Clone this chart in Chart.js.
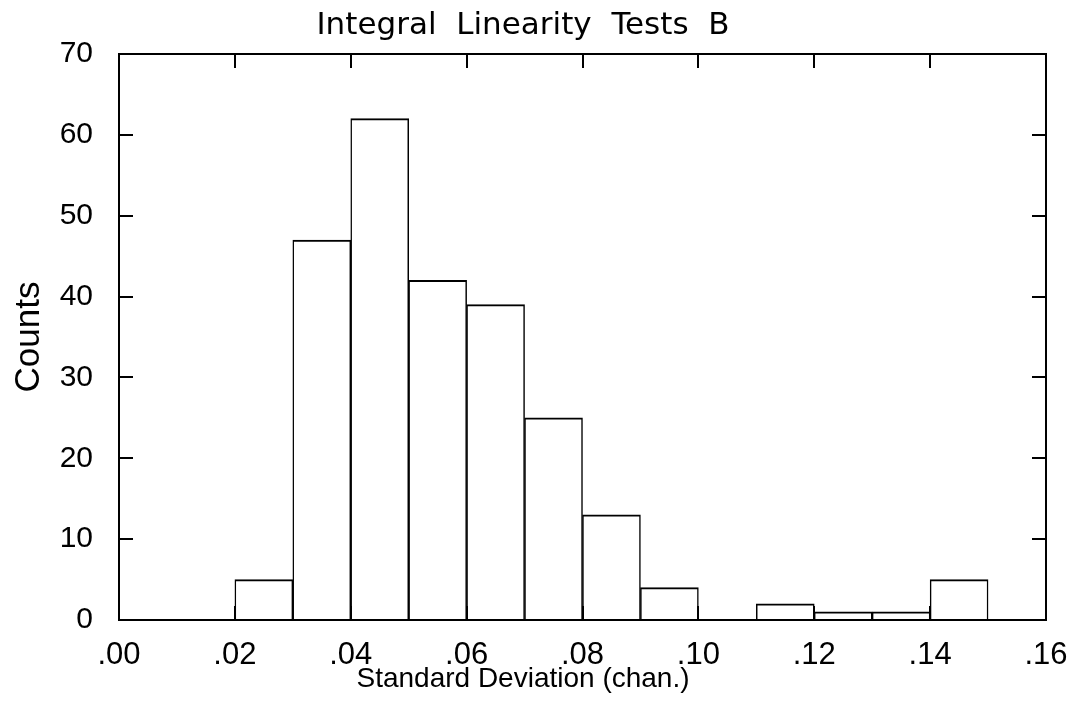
<!DOCTYPE html>
<html>
<head>
<meta charset="utf-8">
<script src="https://cdn.jsdelivr.net/npm/chart.js@4"></script>
<style>
  html, body { margin: 0; padding: 0; background: #fff; }
  #wrap { width: 1071px; height: 709px; }
</style>
</head>
<body>
<div id="wrap"><canvas id="hist" width="1071" height="709"></canvas></div>
<script>
// ====== Data ======
const BIN_STARTS = [0.00, 0.01, 0.02, 0.03, 0.04, 0.05, 0.06, 0.07, 0.08, 0.09, 0.10, 0.11, 0.12, 0.13, 0.14, 0.15];
const COUNTS     = [0, 0, 5, 47, 62, 42, 39, 25, 13, 4, 0, 2, 1, 1, 5, 0];
const BIN_WIDTH  = 0.01;
const X_TICKS    = [0.00, 0.02, 0.04, 0.06, 0.08, 0.10, 0.12, 0.14, 0.16];
const Y_TICKS    = [0, 10, 20, 30, 40, 50, 60, 70];
// =======================================

const FONT = "'Liberation Sans', Arial, sans-serif";

// ".04" style labels
function fmtX(v) {
  return Number(v).toFixed(2).replace(/^0/, "");
}

// frame + inward ticks on all four sides
const frameTicks = {
  id: "frameTicks",
  afterDatasetsDraw(chart) {
    const { ctx, chartArea: a, scales } = chart;
    const len = 14;
    ctx.save();
    ctx.strokeStyle = "#000";
    ctx.lineWidth = 2;
    ctx.strokeRect(a.left, a.top, a.right - a.left, a.bottom - a.top);
    ctx.beginPath();
    X_TICKS.forEach(v => {
      const px = Math.round(scales.x.getPixelForValue(v));
      ctx.moveTo(px, a.bottom); ctx.lineTo(px, a.bottom - len);
      ctx.moveTo(px, a.top);    ctx.lineTo(px, a.top + len);
    });
    Y_TICKS.forEach(v => {
      const py = Math.round(scales.y.getPixelForValue(v));
      ctx.moveTo(a.left, py);  ctx.lineTo(a.left + len, py);
      ctx.moveTo(a.right, py); ctx.lineTo(a.right - len, py);
    });
    ctx.stroke();
    ctx.restore();
  }
};

new Chart(document.getElementById("hist"), {
  type: "bar",
  data: {
    datasets: [{
      label: "Counts",
      data: BIN_STARTS.map((s, i) => ({ x: s + BIN_WIDTH / 2, y: COUNTS[i] })),
      backgroundColor: "#fff",
      borderColor: "#000",
      borderWidth: { top: 2, left: 1.5, right: 1.5, bottom: 0 },
      borderSkipped: false,
      barPercentage: 1,
      categoryPercentage: 1
    }]
  },
  options: {
    responsive: false,
    animation: false,
    layout: { padding: { left: 0, right: 25, top: 0, bottom: 0 } },
    plugins: {
      legend: { display: false },
      tooltip: { enabled: false },
      title: {
        display: true,
        text: "Integral  Linearity  Tests  B",
        color: "#000",
        font: { family: "'DejaVu Sans', sans-serif", size: 31, weight: "normal", lineHeight: 1.2 },
        padding: { top: 7, bottom: 9.8 }
      },
      subtitle: {
        display: true,
        position: "bottom",
        text: "Standard Deviation (chan.)",
        color: "#000",
        font: { family: FONT, size: 28, weight: "normal", lineHeight: 1.2 },
        padding: { top: -10, bottom: 13.2 }
      }
    },
    scales: {
      x: {
        type: "linear",
        offset: false,
        min: 0,
        max: 0.16,
        afterBuildTicks: s => { s.ticks = X_TICKS.map(v => ({ value: v })); },
        afterFit: s => { s.height = 52.2; s.paddingLeft = 0; s.paddingRight = 0; },
        grid: { display: false, drawTicks: false },
        border: { display: false },
        ticks: {
          color: "#000",
          padding: 16.5,
          maxRotation: 0,
          font: { family: FONT, size: 31 },
          callback: v => fmtX(v)
        }
      },
      y: {
        min: 0,
        max: 70,
        afterBuildTicks: s => { s.ticks = Y_TICKS.map(v => ({ value: v })); },
        afterFit: s => { s.width = 119; },
        grid: { display: false, drawTicks: false },
        border: { display: false },
        ticks: {
          color: "#000",
          padding: 26,
          font: { family: FONT, size: 30 }
        },
        title: {
          display: true,
          text: "Counts",
          color: "#000",
          font: { family: FONT, size: 35 },
          padding: { top: 8, bottom: 0 }
        }
      }
    }
  },
  plugins: [frameTicks]
});
</script>
</body>
</html>
